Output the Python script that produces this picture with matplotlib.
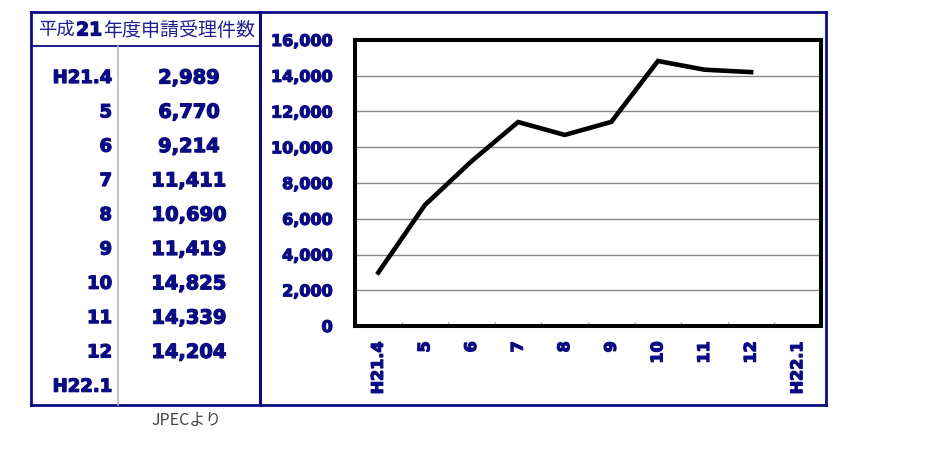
import matplotlib
matplotlib.use("Agg")
import matplotlib.pyplot as plt
from matplotlib.lines import Line2D
import matplotlib.patheffects as pe

months = ["H21.4", "5", "6", "7", "8", "9", "10", "11", "12", "H22.1"]
counts = [2989, 6770, 9214, 11411, 10690, 11419, 14825, 14339, 14204]
count_labels = ["2,989", "6,770", "9,214", "11,411", "10,690", "11,419",
                "14,825", "14,339", "14,204", ""]
yticks = [0, 2000, 4000, 6000, 8000, 10000, 12000, 14000, 16000]
ytick_labels = ["0", "2,000", "4,000", "6,000", "8,000", "10,000",
                "12,000", "14,000", "16,000"]

W, H = 934, 461
NAVY = "#0c0c82"
fig = plt.figure(figsize=(W / 100, H / 100), dpi=100)
fig.patch.set_facecolor("white")
heavy = [pe.withStroke(linewidth=0.9, foreground=NAVY)]


def fx(x):
    return x / W


def fy(y):
    return 1 - y / H


def fline(x0, y0, x1, y1, color, lw):
    fig.add_artist(Line2D([fx(x0), fx(x1)], [fy(y0), fy(y1)],
                          transform=fig.transFigure, color=color, lw=lw,
                          solid_capstyle="projecting"))


# chart axes
ax = fig.add_axes([fx(355), fy(326), fx(821) - fx(355), fy(40) - fy(326)])
x = list(range(len(counts)))
ax.plot(x, counts, color="black", lw=3.3, solid_joinstyle="miter")
ax.set_xlim(-0.5, len(months) - 0.5)
ax.set_ylim(0, 16000)
ax.set_yticks(yticks)
ax.set_yticklabels(ytick_labels)
ax.set_xticks(range(len(months)))
ax.set_xticklabels(months, rotation=90)
ax.set_xticks([i + 0.5 for i in range(len(months) - 1)], minor=True)
ax.yaxis.grid(True, color="#888888", lw=1.0)
ax.set_axisbelow(True)
ax.tick_params(axis="y", length=0, pad=16, labelsize=11.5, labelcolor=NAVY)
ax.tick_params(axis="x", which="major", length=0, pad=11, labelsize=11.5,
               labelcolor=NAVY)
ax.tick_params(axis="x", which="minor", direction="in", length=3,
               color="#888888", width=0.8)
for lab in ax.get_xticklabels() + ax.get_yticklabels():
    lab.set_fontweight("bold")
    lab.set_family("DejaVu Sans")
    lab.set_path_effects(heavy)
for sp in ax.spines.values():
    sp.set_color("black")
    sp.set_linewidth(2.9)

# table
row_y0, row_dy = 78, 34.3
for i, (m, v) in enumerate(zip(months, count_labels)):
    yy = row_y0 + i * row_dy
    fig.text(fx(112), fy(yy), m, ha="right", va="center", color=NAVY,
             fontsize=13, fontweight="bold", family="DejaVu Sans",
             path_effects=heavy)
    if v:
        fig.text(fx(189), fy(yy), v, ha="center", va="center", color=NAVY,
                 fontsize=14, fontweight="bold", family="DejaVu Sans",
                 path_effects=heavy)

# header
HCOL = "#1e1e90"
fig.text(fx(38), fy(30), "平成", ha="left", va="center", color=HCOL,
         fontsize=13.2, family=["Noto Sans CJK JP", "DejaVu Sans"])
fig.text(fx(89), fy(30), "21", ha="center", va="center", color=NAVY,
         fontsize=13.5, fontweight="bold", family="DejaVu Sans",
         path_effects=heavy)
fig.text(fx(103), fy(30), "年度申請受理件数", ha="left", va="center",
         color=HCOL, fontsize=13.7, family=["Noto Sans CJK JP", "DejaVu Sans"])

fig.text(fx(187), fy(420), "JPECより", ha="center", va="center",
         color="#444444", fontsize=11.5,
         family=["Noto Sans CJK JP", "DejaVu Sans"])

# frame lines
fline(31.5, 12, 825.5, 12, NAVY, 2.0)
fline(31.5, 405, 825.5, 405, NAVY, 2.0)
fline(31.5, 12, 31.5, 405, NAVY, 2.0)
fline(825.5, 12, 825.5, 405, NAVY, 2.0)
fline(260, 12, 260, 405, NAVY, 2.2)
fline(31.5, 46, 260, 46, NAVY, 1.3)
fline(118, 46, 118, 405, "#b0b0b0", 1.1)

fig.savefig("out.png", dpi=100, facecolor="white")
